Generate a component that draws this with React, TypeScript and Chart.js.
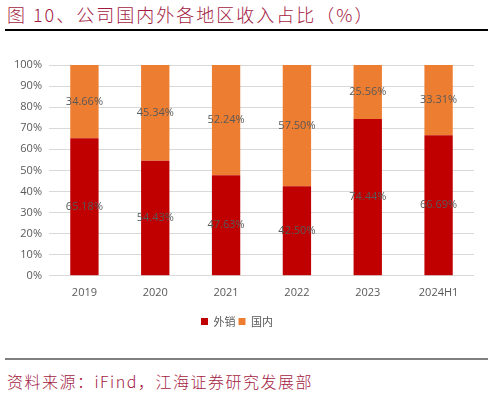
import React, { useEffect, useRef } from "react";
import { Chart, registerables } from "chart.js";

Chart.register(...registerables);

const categories = ["2019", "2020", "2021", "2022", "2023", "2024H1"];
const exportShare = [65.18, 54.43, 47.63, 42.5, 74.44, 66.69];
const domesticShare = [34.66, 45.34, 52.24, 57.5, 25.56, 33.31];
const yTicks = [0, 10, 20, 30, 40, 50, 60, 70, 80, 90, 100];

const RED = "#c00000";
const ORANGE = "#ed7d31";
const TITLE_COLOR = "#a31a3f";

const labelPlugin = {
  id: "segLabels",
  afterDatasetsDraw(chart: any) {
    const ctx = chart.ctx;
    ctx.save();
    ctx.font = "11px 'Open Sans', 'DejaVu Sans', sans-serif";
    ctx.fillStyle = "#595959";
    ctx.textAlign = "center";
    ctx.textBaseline = "middle";
    chart.data.datasets.forEach((ds: any, di: number) => {
      const meta = chart.getDatasetMeta(di);
      meta.data.forEach((bar: any, i: number) => {
        const raw = ds.rawValues[i];
        const yc = (bar.y + bar.base) / 2;
        ctx.fillText(raw.toFixed(2) + "%", bar.x, yc);
      });
    });
    ctx.restore();
  },
};

export default function App() {
  const ref = useRef<HTMLCanvasElement | null>(null);
  useEffect(() => {
    document.body.style.margin = "0";
    const totals = categories.map((_, i) => exportShare[i] + domesticShare[i]);
    const chart = new Chart(ref.current as HTMLCanvasElement, {
      type: "bar",
      data: {
        labels: categories,
        datasets: [
          {
            label: "外销",
            data: exportShare.map((v, i) => (v / totals[i]) * 100),
            rawValues: exportShare,
            backgroundColor: RED,
            barPercentage: 0.4,
            categoryPercentage: 1,
          } as any,
          {
            label: "国内",
            data: domesticShare.map((v, i) => (v / totals[i]) * 100),
            rawValues: domesticShare,
            backgroundColor: ORANGE,
            barPercentage: 0.4,
            categoryPercentage: 1,
          } as any,
        ],
      },
      options: {
        animation: false,
        responsive: false,
        layout: { padding: { left: 0, right: 20, top: 65, bottom: 4 } },
        plugins: {
          legend: {
            position: "bottom",
            labels: {
              boxWidth: 7,
              boxHeight: 7,
              padding: 3,
              color: "#595959",
              font: { size: 11, family: "'Noto Sans CJK SC', sans-serif" },
            },
          },
          tooltip: { enabled: false },
        },
        scales: {
          x: {
            stacked: true,
            grid: { display: false },
            border: { display: false },
            afterFit(scale: any) {
              scale.height += 12;
            },
            ticks: {
              color: "#595959",
              font: { size: 11, family: "'Open Sans', sans-serif" },
              padding: 2,
            },
          },
          y: {
            stacked: true,
            min: 0,
            max: 100,
            afterBuildTicks(scale: any) {
              scale.ticks = yTicks.map((v) => ({ value: v }));
            },
            afterFit(scale: any) {
              scale.width = 49;
            },
            grid: { color: "#d9d9d9", lineWidth: 1, drawTicks: false },
            border: { display: false },
            ticks: {
              color: "#595959",
              font: { size: 11, family: "'Open Sans', sans-serif" },
              padding: 7,
              callback: (v: any) => v + "%",
            },
          },
        },
      },
      plugins: [labelPlugin],
    });
    return () => chart.destroy();
  }, []);

  return (
    <div style={{ position: "relative", width: 494, height: 396, background: "#fff", overflow: "hidden" }}>
      <div
        style={{
          position: "absolute",
          left: 7,
          top: 2,
          fontFamily: "'Noto Sans CJK SC', sans-serif",
          fontSize: 18,
          fontWeight: 300,
          lineHeight: "24px",
          color: TITLE_COLOR,
          letterSpacing: 2,
          whiteSpace: "nowrap",
        }}
      >
        图 10、公司国内外各地区收入占比（%）
      </div>
      <div style={{ position: "absolute", left: 5, top: 29, width: 483, height: 2, background: "#000" }} />
      <canvas ref={ref} width={494} height={341} style={{ position: "absolute", left: 0, top: 0 }} />
      <div style={{ position: "absolute", left: 5, top: 358, width: 483, height: 2, background: "#7f7f7f" }} />
      <div
        style={{
          position: "absolute",
          left: 7,
          top: 369,
          fontFamily: "'Noto Sans CJK SC', sans-serif",
          fontSize: 16,
          fontWeight: 300,
          lineHeight: "24px",
          color: TITLE_COLOR,
          letterSpacing: 1.5,
          whiteSpace: "nowrap",
        }}
      >
        资料来源：iFind，江海证券研究发展部
      </div>
    </div>
  );
}
